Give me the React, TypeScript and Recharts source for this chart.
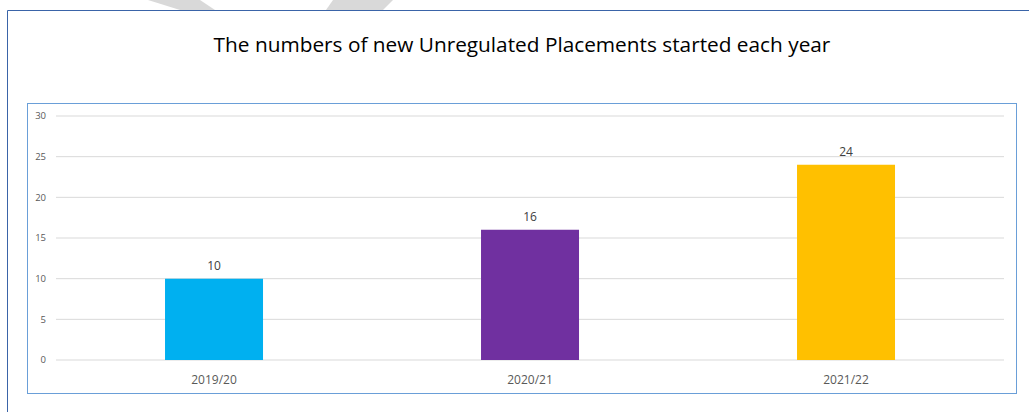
import React from "react";
import { BarChart, Bar, XAxis, YAxis, CartesianGrid, LabelList, Cell } from "recharts";

const years = ["2019/20", "2020/21", "2021/22"];
const placements = [10, 16, 24];
const barColors = ["#00B0F0", "#7030A0", "#FFC000"];
const yTicks = [0, 5, 10, 15, 20, 25, 30];
const title = "The numbers of new Unregulated Placements started each year";

const data = years.map((year, i) => ({ year, value: placements[i] }));

const FONT = "'Open Sans', 'DejaVu Sans', sans-serif";

export default function App() {
  return (
    <div style={{ position: "absolute", left: 0, top: 0, width: 1029, height: 412, background: "#fff", overflow: "hidden", fontFamily: FONT }}>
      <svg width={1029} height={412} style={{ position: "absolute", left: 0, top: 0 }}>
        <polygon points="148,0 200,0 215,10 180,10" fill="#D9D9D9" />
        <polygon points="333,0 393,0 383,10 326,10" fill="#D9D9D9" />
        <line x1={7.5} y1={10.5} x2={1029} y2={10.5} stroke="#3A64A8" strokeWidth={1} />
        <line x1={7.5} y1={10.5} x2={7.5} y2={412} stroke="#3A64A8" strokeWidth={1} />
        <text x={522} y={52} textAnchor="middle" fontSize={20.8} fill="#000" fontFamily={FONT}>
          {title}
        </text>
        <rect x={27.5} y={103.5} width={989} height={290} fill="none" stroke="#6A9FD8" strokeWidth={1} />
      </svg>
      <div style={{ position: "absolute", left: 27, top: 103 }}>
        <BarChart
          width={990}
          height={291}
          data={data}
          margin={{ top: 13, right: 13, left: 0, bottom: 4 }}
          barCategoryGap="34.5%"
        >
          <CartesianGrid vertical={false} stroke="#D9D9D9" />
          <XAxis
            dataKey="year"
            axisLine={false}
            tickLine={false}
            tickMargin={9}
            height={30}
            tick={{ fontSize: 12, fill: "#595959", fontFamily: FONT }}
          />
          <YAxis
            domain={[0, 30]}
            ticks={yTicks}
            width={29}
            axisLine={false}
            tickLine={false}
            tickMargin={4}
            tick={{ fontSize: 9.5, fill: "#595959", fontFamily: FONT }}
          />
          <Bar dataKey="value" isAnimationActive={false}>
            {data.map((d, i) => (
              <Cell key={d.year} fill={barColors[i]} />
            ))}
            <LabelList dataKey="value" position="top" offset={9} fontSize={12} fill="#404040" fontFamily={FONT} />
          </Bar>
        </BarChart>
      </div>
    </div>
  );
}
